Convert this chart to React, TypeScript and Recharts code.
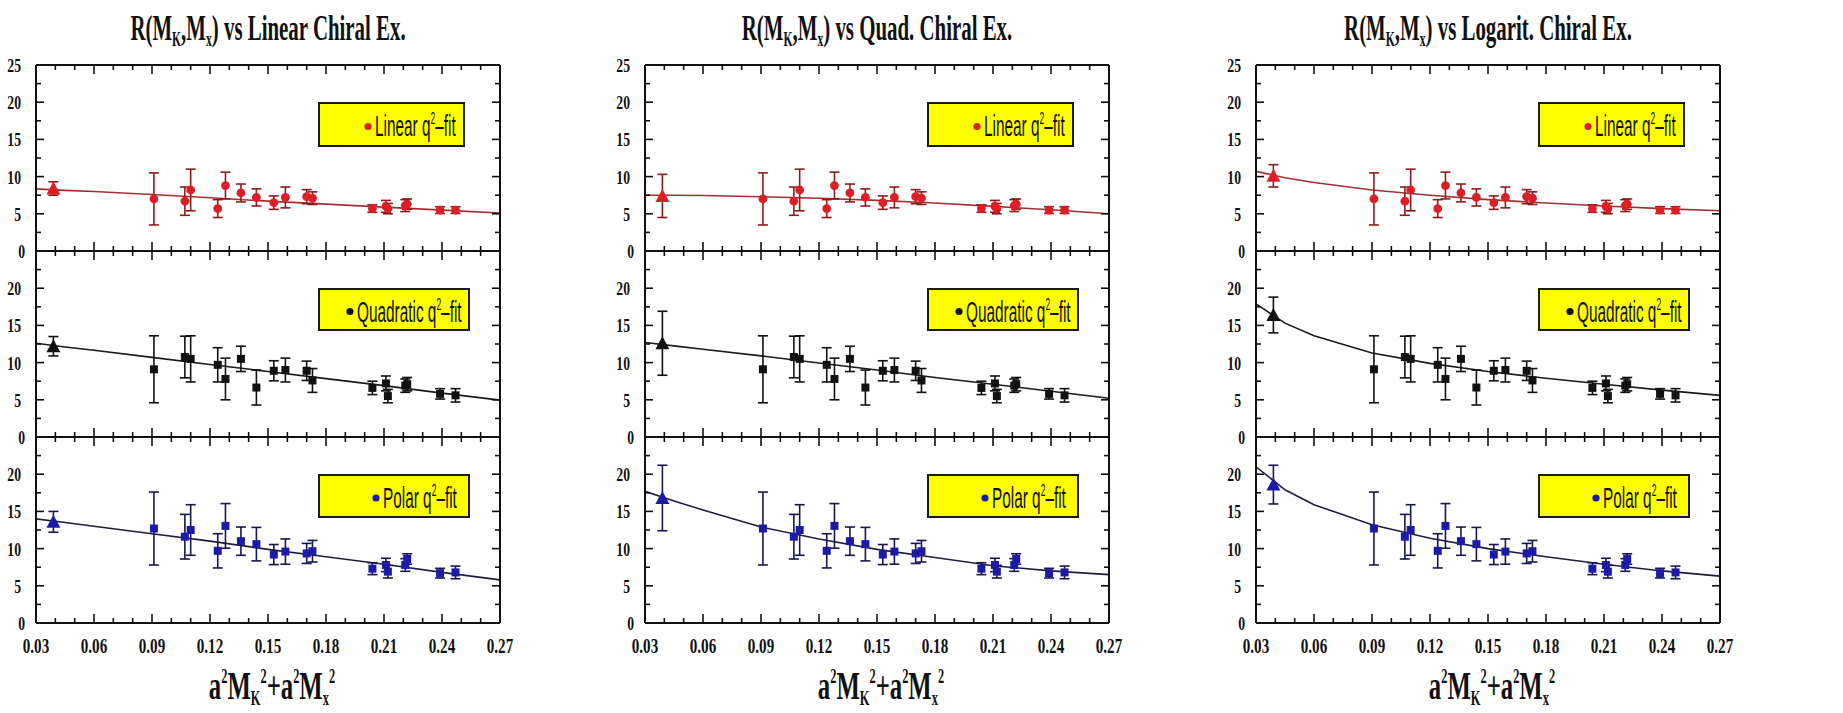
import React from 'react';
import { ComposedChart, Scatter, Line, XAxis, YAxis, ErrorBar, Legend } from 'recharts';

// a^2 M_K^2 + a^2 M_x^2 of the simulated points (same in every panel)
const X_POINTS = [0.091, 0.107, 0.11, 0.124, 0.128, 0.136, 0.144, 0.153, 0.159, 0.17, 0.173, 0.204, 0.211, 0.212, 0.221, 0.222, 0.239, 0.247];

// R(M_K, M_x) from the three q^2 fits
const LINEAR_Q2 = [7.0, 6.7, 8.2, 5.7, 8.8, 7.8, 7.2, 6.5, 7.2, 7.3, 7.1, 5.7, 6.0, 5.7, 6.1, 6.3, 5.5, 5.5];
const LINEAR_Q2_ERR = [3.5, 1.9, 2.8, 1.2, 1.8, 1.2, 1.15, 0.9, 1.4, 0.95, 0.85, 0.5, 0.8, 0.7, 0.8, 0.7, 0.45, 0.45];
const QUADRATIC_Q2 = [9.1, 10.75, 10.5, 9.7, 7.8, 10.5, 6.65, 8.9, 9.0, 8.9, 7.6, 6.6, 7.2, 5.5, 6.9, 7.1, 5.8, 5.6];
const QUADRATIC_Q2_ERR = [4.5, 2.8, 3.1, 2.3, 2.8, 1.7, 2.35, 1.35, 1.6, 1.3, 1.6, 0.9, 1.0, 0.9, 0.9, 0.9, 0.7, 0.9];
const POLAR_Q2 = [12.7, 11.6, 12.5, 9.7, 13.05, 11.0, 10.6, 9.2, 9.6, 9.35, 9.65, 7.3, 7.8, 6.9, 7.8, 8.6, 6.7, 6.8];
const POLAR_Q2_ERR = [4.9, 3.0, 3.4, 2.3, 3.0, 1.9, 2.25, 1.35, 1.7, 1.35, 1.45, 0.8, 0.9, 0.85, 0.85, 0.7, 0.65, 0.85];

// chirally extrapolated point: [linear, quadratic, logarithmic] extrapolation
const X_CHIRAL = 0.039;
const LINEAR_CHIRAL = [8.4, 7.4, 10.1];
const LINEAR_CHIRAL_ERR = [0.9, 2.9, 1.5];
const QUADRATIC_CHIRAL = [12.2, 12.6, 16.4];
const QUADRATIC_CHIRAL_ERR = [1.3, 4.3, 2.4];
const POLAR_CHIRAL = [13.6, 16.8, 18.6];
const POLAR_CHIRAL_ERR = [1.4, 4.4, 2.6];

// extrapolation curves, sampled at FIT_X
const FIT_X = [0.03, 0.045, 0.06, 0.09, 0.12, 0.15, 0.18, 0.21, 0.24, 0.27];
const LINEAR_FIT = [
  [8.35, 8.15, 8.0, 7.6, 7.15, 6.7, 6.3, 5.9, 5.5, 5.1],
  [7.5, 7.5, 7.45, 7.3, 7.1, 6.8, 6.45, 6.0, 5.55, 5.0],
  [10.7, 9.85, 9.2, 8.2, 7.5, 6.9, 6.45, 6.05, 5.7, 5.4],
];
const QUADRATIC_FIT = [
  [12.6, 12.1, 11.65, 10.7, 9.75, 8.8, 7.85, 6.9, 5.9, 4.95],
  [12.7, 12.25, 11.8, 10.9, 9.95, 9.0, 8.0, 7.1, 6.15, 5.2],
  [17.9, 15.3, 13.6, 11.3, 9.9, 8.8, 7.9, 7.1, 6.3, 5.6],
];
const POLAR_FIT = [
  [14.0, 13.5, 13.0, 12.0, 11.0, 9.9, 8.9, 7.9, 6.8, 5.8],
  [17.7, 16.4, 15.2, 12.9, 11.3, 9.9, 8.8, 7.7, 7.0, 6.5],
  [21.0, 17.9, 15.9, 13.2, 11.4, 10.0, 8.9, 7.9, 7.0, 6.3],
];

const X_MAJOR = [0.03, 0.06, 0.09, 0.12, 0.15, 0.18, 0.21, 0.24, 0.27];
const X_MINOR = [0.04, 0.05, 0.07, 0.08, 0.1, 0.11, 0.13, 0.14, 0.16, 0.17, 0.19, 0.2, 0.22, 0.23, 0.25, 0.26];
const Y_MAJOR = [0, 5, 10, 15, 20, 25];
const Y_MINOR = [2.5, 7.5, 12.5, 17.5, 22.5];
const X_TICKS = [...X_MAJOR, ...X_MINOR].sort((a, b) => a - b);
const Y_TICKS = [...Y_MAJOR, ...Y_MINOR].sort((a, b) => a - b);

const TITLES = ['Linear Chiral Ex.', 'Quad. Chiral Ex.', 'Logarit. Chiral Ex.'];

const ROWS = [
  { label: 'Linear', y: LINEAR_Q2, err: LINEAR_Q2_ERR, chiral: LINEAR_CHIRAL, chiralErr: LINEAR_CHIRAL_ERR, fit: LINEAR_FIT,
    marker: '#dc1f26', bar: '#8c1c1c', line: '#a33030', shape: 'circle', box: [147, 45], textX: 57 },
  { label: 'Quadratic', y: QUADRATIC_Q2, err: QUADRATIC_Q2_ERR, chiral: QUADRATIC_CHIRAL, chiralErr: QUADRATIC_CHIRAL_ERR, fit: QUADRATIC_FIT,
    marker: '#111111', bar: '#111111', line: '#1a1a1a', shape: 'square', box: [152, 43], textX: 39 },
  { label: 'Polar', y: POLAR_Q2, err: POLAR_Q2_ERR, chiral: POLAR_CHIRAL, chiralErr: POLAR_CHIRAL_ERR, fit: POLAR_FIT,
    marker: '#1b1ba8', bar: '#17174f', line: '#1e1e3c', shape: 'square', box: [152, 44], textX: 65 },
];

// panel geometry (plot area of each panel)
const PLOT_LEFT = [36, 645, 1256];
const PLOT_TOP = [65, 251, 437];
const PW = 464;
const PH = 186;
const AXIS_W = 36;
const PAD = 14;
const RIGHT_PAD = 26;

const INK = '#111';
const SERIF = '"Liberation Serif", "Times New Roman", serif';
const SANS = '"Liberation Sans", Arial, sans-serif';
const FRAME = { stroke: INK, strokeWidth: 2 };

function xTicks(side: 'top' | 'bottom', labels: boolean) {
  return (p: any) => {
    const v = p.payload.value;
    const major = X_MAJOR.includes(v);
    const dir = side === 'bottom' ? -1 : 1;
    return (
      <g>
        <line x1={p.x} x2={p.x} y1={p.y} y2={p.y + dir * (major ? 9 : 5)} stroke={INK} strokeWidth={1.6} />
        {labels && major && (
          <text transform={`translate(${p.x},${p.y + 30}) scale(0.72,1)`} textAnchor="middle"
            fontFamily={SERIF} fontWeight="bold" fontSize={21} fill={INK}>
            {v.toFixed(2)}
          </text>
        )}
      </g>
    );
  };
}

function yTicks(side: 'left' | 'right', showTop: boolean) {
  return (p: any) => {
    const v = p.payload.value;
    const major = Y_MAJOR.includes(v);
    const dir = side === 'left' ? 1 : -1;
    const label = side === 'left' && major && (showTop || v !== 25);
    return (
      <g>
        <line x1={p.x} x2={p.x + dir * (major ? 8 : 5)} y1={p.y} y2={p.y} stroke={INK} strokeWidth={1.6} />
        {label && (
          <text transform={`translate(${p.x - (v === 0 ? 11 : 15)},${p.y + 7}) scale(0.72,1)`} textAnchor="end"
            fontFamily={SERIF} fontWeight="bold" fontSize={19} fill={INK}>
            {v}
          </text>
        )}
      </g>
    );
  };
}

function marker(kind: string, color: string) {
  return (p: any) => {
    const { cx, cy } = p;
    if (kind === 'triangle')
      return <path d={`M${cx},${cy - 7} L${cx + 7},${cy + 6} L${cx - 7},${cy + 6} Z`} fill={color} />;
    if (kind === 'square') return <rect x={cx - 4} y={cy - 4} width={8} height={8} fill={color} />;
    return <circle cx={cx} cy={cy} r={4.4} fill={color} />;
  };
}

function FitLegend({ label, color, textX, w, h }: { label: string; color: string; textX: number; w: number; h: number }) {
  return (
    <svg width={w} height={h} style={{ display: 'block' }}>
      <rect x={1} y={1} width={w - 2} height={h - 2} fill="#ffff00" stroke="#1a1a1a" strokeWidth={2} />
      <circle cx={textX - 7} cy={h / 2 + 2} r={3.6} fill={color} />
      <text transform={`translate(${textX},34) scale(0.53,1)`} fontFamily={SANS} fontSize={29} fill={INK}>
        {label} q<tspan fontSize={16} dy={-12}>2</tspan><tspan dy={12}>–fit</tspan>
      </text>
    </svg>
  );
}

function Panel({ col, row }: { col: number; row: number }) {
  const r = ROWS[row];
  const isBottom = row === 2;
  const points = X_POINTS.map((x, i) => ({ x, y: r.y[i], err: r.err[i] }));
  const chiral = [{ x: X_CHIRAL, y: r.chiral[col], err: r.chiralErr[col] }];
  const fit = FIT_X.map((x, i) => ({ x, y: r.fit[col][i] }));
  const width = AXIS_W + PW + RIGHT_PAD;
  const height = PAD + PH + (isBottom ? 45 : PAD);
  const [bw, bh] = r.box;

  return (
    <div style={{ position: 'absolute', left: PLOT_LEFT[col] - AXIS_W, top: PLOT_TOP[row] - PAD }}>
      <ComposedChart width={width} height={height} margin={{ top: PAD, right: RIGHT_PAD, bottom: isBottom ? 0 : PAD, left: 0 }}>
        <XAxis xAxisId="b" type="number" dataKey="x" domain={[0.03, 0.27]} allowDataOverflow ticks={X_TICKS} interval={0}
          orientation="bottom" mirror={!isBottom} height={isBottom ? 45 : 30} tickSize={0} tickMargin={0} tickLine={false}
          axisLine={FRAME} tick={xTicks('bottom', isBottom)} />
        <XAxis xAxisId="t" type="number" dataKey="x" domain={[0.03, 0.27]} allowDataOverflow ticks={X_TICKS} interval={0}
          orientation="top" mirror tickSize={0} tickMargin={0} tickLine={false} axisLine={FRAME} tick={xTicks('top', false)} />
        <YAxis yAxisId="l" type="number" domain={[0, 25]} allowDataOverflow ticks={Y_TICKS} interval={0} width={AXIS_W}
          orientation="left" tickSize={0} tickMargin={0} tickLine={false} axisLine={FRAME} tick={yTicks('left', row === 0)} />
        <YAxis yAxisId="r" type="number" domain={[0, 25]} allowDataOverflow ticks={Y_TICKS} interval={0}
          orientation="right" mirror tickSize={0} tickMargin={0} tickLine={false} axisLine={FRAME} tick={yTicks('right', false)} />

        <Line xAxisId="b" yAxisId="l" data={fit} dataKey="y" type="linear" stroke={r.line} strokeWidth={1.6}
          dot={false} activeDot={false} isAnimationActive={false} legendType="none" />
        <Scatter xAxisId="b" yAxisId="l" name={r.label} data={points} dataKey="y" shape={marker(r.shape, r.marker)}
          isAnimationActive={false}>
          <ErrorBar dataKey="err" direction="y" width={5} stroke={r.bar} strokeWidth={1.6} isAnimationActive={false} />
        </Scatter>
        <Scatter xAxisId="b" yAxisId="l" data={chiral} dataKey="y" shape={marker('triangle', r.marker)}
          isAnimationActive={false} legendType="none">
          <ErrorBar dataKey="err" direction="y" width={5} stroke={r.bar} strokeWidth={1.6} isAnimationActive={false} />
        </Scatter>

        <Legend verticalAlign="middle" align="center" layout="horizontal"
          wrapperStyle={{ left: AXIS_W + 282, top: PAD + 37, width: bw, height: bh }}
          content={() => <FitLegend label={r.label} color={r.marker} textX={r.textX} w={bw} h={bh} />} />
      </ComposedChart>
    </div>
  );
}

export default function App() {
  return (
    <div style={{ position: 'absolute', left: 0, top: 0, width: 1843, height: 713, background: '#fff', overflow: 'hidden' }}>
      {[0, 1, 2].map((row) => [0, 1, 2].map((col) => <Panel key={`${row}-${col}`} col={col} row={row} />))}
      <svg width={1843} height={713} style={{ position: 'absolute', left: 0, top: 0, pointerEvents: 'none' }}>
        {TITLES.map((t, c) => (
          <text key={t} transform={`translate(${PLOT_LEFT[c] + PW / 2},40) scale(0.58,1)`} textAnchor="middle"
            fontFamily={SERIF} fontWeight="bold" fontSize={36} fill={INK}>
            R(M<tspan fontSize={20} dy={6}>K</tspan><tspan dy={-6}>,M</tspan><tspan fontSize={20} dy={6}>x</tspan>
            <tspan dy={-6}>) vs {t}</tspan>
          </text>
        ))}
        {PLOT_LEFT.map((left) => (
          <text key={left} transform={`translate(${left + PW / 2 + 4},699) scale(0.62,1)`} textAnchor="middle"
            fontFamily={SERIF} fontWeight="bold" fontSize={40} fill={INK}>
            a<tspan fontSize={20} dy={-16}>2</tspan><tspan dy={16}>M</tspan><tspan fontSize={20} dy={6}>K</tspan>
            <tspan fontSize={20} dy={-22}>2</tspan><tspan dy={16}>+a</tspan><tspan fontSize={20} dy={-16}>2</tspan>
            <tspan dy={16}>M</tspan><tspan fontSize={20} dy={6}>x</tspan><tspan fontSize={20} dy={-22}>2</tspan>
          </text>
        ))}
      </svg>
    </div>
  );
}
